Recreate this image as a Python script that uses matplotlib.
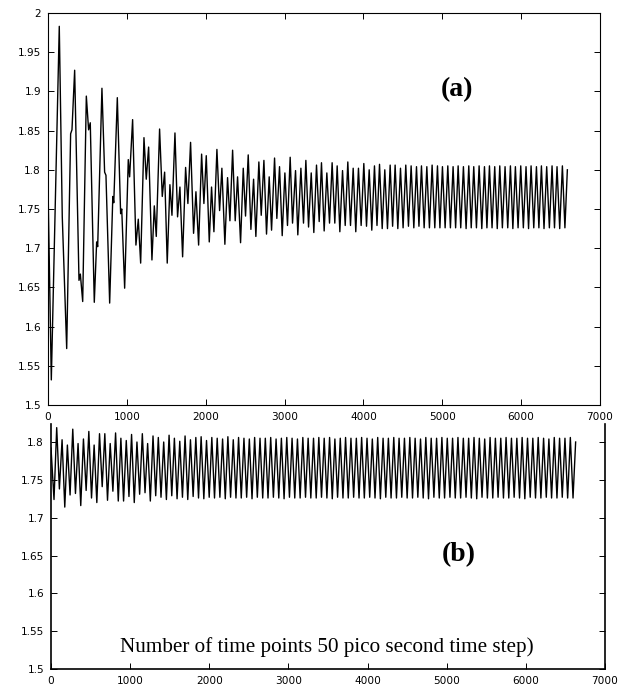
import matplotlib
matplotlib.use("Agg")
import matplotlib.pyplot as plt
from matplotlib.ticker import FuncFormatter, MultipleLocator

# ---------------- data ----------------
# panel (a): successive turning points of the curve (time point, value)
top_t = [0, 42, 143, 181, 237, 287, 304, 338, 393, 410, 440, 486, 515, 536, 587,
         617, 630, 684, 718, 735, 782, 822, 834, 879, 921, 935, 972, 1018, 1035,
         1073, 1115, 1145, 1175,
         1217, 1246, 1276, 1318, 1348, 1373, 1415, 1449, 1479, 1512, 1546, 1572,
         1610, 1643, 1673, 1707, 1745, 1774, 1808, 1846, 1876, 1910, 1948, 1977,
         2007, 2045, 2074, 2104, 2142, 2176, 2205, 2243, 2277, 2307, 2341, 2374,
         2404, 2442,
         2476, 2505, 2539, 2573, 2607, 2636, 2674, 2704, 2738, 2771, 2805, 2835,
         2873, 2902, 2936, 2970, 3004, 3037, 3071, 3101, 3139, 3168, 3207, 3240,
         3270, 3304, 3338, 3371, 3405, 3439, 3468, 3502, 3536, 3570, 3603, 3637,
         3667, 3701, 3735, 3769, 3802,
         3836, 3870, 3903, 3937, 3971, 4005, 4039, 4073, 4106, 4140, 4172, 4204,
         4238, 4271, 4305, 4339, 4370, 4402, 4436, 4470, 4503, 4537, 4571, 4605,
         4639, 4673, 4704, 4736, 4770, 4804, 4837, 4871, 4905, 4939, 4970, 5002,
         5036, 5070, 5103, 5137, 5169, 5201,
         5234, 5268, 5302, 5336, 5367, 5399, 5433, 5467, 5501, 5535, 5566, 5598,
         5631, 5665, 5697, 5729, 5762, 5796, 5830, 5864, 5895, 5927, 5961, 5995,
         6028, 6062, 6094, 6126, 6160, 6194, 6225, 6257, 6290, 6324, 6358, 6392,
         6423, 6455, 6489, 6523, 6555, 6586]
top_v = [1.780, 1.532, 1.983, 1.740, 1.572, 1.846, 1.851, 1.927, 1.659, 1.667,
         1.632, 1.894, 1.851, 1.860, 1.631, 1.708, 1.702, 1.904, 1.797, 1.793,
         1.630, 1.766, 1.758, 1.892, 1.744, 1.750, 1.649, 1.813, 1.791, 1.864,
         1.704, 1.737, 1.681,
         1.841, 1.788, 1.829, 1.685, 1.754, 1.715, 1.852, 1.766, 1.797, 1.681,
         1.781, 1.742, 1.847, 1.740, 1.778, 1.689, 1.803, 1.757, 1.835, 1.719,
         1.772, 1.704, 1.820, 1.757, 1.818, 1.708, 1.778, 1.721, 1.826, 1.748,
         1.802, 1.705, 1.790, 1.735, 1.825, 1.735, 1.791, 1.707,
         1.802, 1.741, 1.819, 1.724, 1.788, 1.715, 1.810, 1.742, 1.812, 1.718,
         1.791, 1.723, 1.815, 1.738, 1.804, 1.716, 1.796, 1.729, 1.816, 1.732,
         1.799, 1.717, 1.802, 1.732, 1.812, 1.727, 1.796, 1.720, 1.806, 1.734,
         1.809, 1.722, 1.796, 1.732, 1.809, 1.732, 1.805, 1.721, 1.799, 1.729,
         1.810,
         1.729, 1.802, 1.721, 1.802, 1.729, 1.808, 1.728, 1.800, 1.723, 1.805,
         1.729, 1.807, 1.725, 1.800, 1.725, 1.806, 1.728, 1.806, 1.725, 1.802,
         1.726, 1.806, 1.728, 1.805, 1.726, 1.804, 1.728, 1.805, 1.726, 1.804,
         1.726, 1.806, 1.726, 1.805, 1.726, 1.804, 1.726, 1.805, 1.726, 1.804,
         1.726, 1.805,
         1.726, 1.804, 1.725, 1.805, 1.726, 1.804, 1.726, 1.805, 1.725, 1.804,
         1.726, 1.805, 1.726, 1.804, 1.725, 1.805, 1.726, 1.804, 1.726, 1.805,
         1.725, 1.804, 1.726, 1.805, 1.726, 1.804, 1.725, 1.805, 1.726, 1.804,
         1.726, 1.805, 1.725, 1.804, 1.726, 1.805, 1.726, 1.804, 1.725, 1.805,
         1.726, 1.800]

# panel (b): start / end values, then the peaks and troughs of each cycle
bot_start_t, bot_start_v = 0, 1.792
bot_end_t, bot_end_v = 6629, 1.800
bot_peak_t = [72, 140, 207, 275, 342, 410, 478, 545, 613, 680, 748, 816, 883, 951,
              1018, 1086, 1154, 1221, 1289, 1356, 1424, 1492, 1559, 1627, 1694,
              1762, 1830, 1897, 1965, 2032, 2100, 2168, 2235, 2303, 2370, 2438,
              2506, 2573, 2641, 2708, 2776, 2844, 2911, 2979, 3046, 3114, 3182,
              3249, 3317, 3384, 3452, 3520, 3587, 3655, 3722, 3790, 3858, 3925,
              3993, 4060, 4128, 4196, 4263, 4331, 4398, 4466, 4534, 4601, 4669,
              4736, 4804, 4872, 4939, 5007, 5074, 5142, 5210, 5277, 5345, 5412,
              5480, 5548, 5615, 5683, 5750, 5818, 5886, 5953, 6021, 6088, 6156,
              6224, 6291, 6359, 6426, 6494, 6562]
bot_peak_v = [1.819, 1.803, 1.796, 1.817, 1.798, 1.804, 1.814, 1.796, 1.811, 1.811,
              1.798, 1.812, 1.805, 1.802, 1.810, 1.800, 1.811, 1.798, 1.808, 1.806,
              1.800, 1.809, 1.805, 1.801, 1.808, 1.803, 1.806, 1.807, 1.802, 1.806,
              1.805, 1.804, 1.807, 1.803, 1.806, 1.805, 1.804, 1.806, 1.805, 1.805,
              1.806, 1.804, 1.805, 1.806, 1.805, 1.804, 1.806, 1.805, 1.805, 1.806,
              1.805, 1.806, 1.804, 1.805, 1.806, 1.805, 1.805, 1.806, 1.805, 1.804,
              1.806, 1.805, 1.805, 1.806, 1.805, 1.805, 1.806, 1.805, 1.804, 1.806,
              1.805, 1.805, 1.806, 1.805, 1.805, 1.806, 1.805, 1.805, 1.806, 1.805,
              1.804, 1.806, 1.805, 1.805, 1.806, 1.805, 1.805, 1.806, 1.805, 1.805,
              1.806, 1.805, 1.804, 1.806, 1.805, 1.805, 1.806]
bot_trough_t = [38, 106, 174, 241, 309, 376, 444, 512, 579, 647, 714, 782, 850, 917,
                985, 1052, 1120, 1188, 1255, 1323, 1390, 1458, 1526, 1593, 1661,
                1728, 1796, 1864, 1931, 1999, 2066, 2134, 2202, 2269, 2337, 2404,
                2472, 2540, 2607, 2675, 2742, 2810, 2878, 2945, 3013, 3080, 3148,
                3216, 3283, 3351, 3418, 3486, 3554, 3621, 3689, 3756, 3824, 3892,
                3959, 4027, 4094, 4162, 4230, 4297, 4365, 4432, 4500, 4568, 4635,
                4703, 4770, 4838, 4906, 4973, 5041, 5108, 5176, 5244, 5311, 5379,
                5446, 5514, 5582, 5649, 5717, 5784, 5852, 5920, 5987, 6055, 6122,
                6190, 6258, 6325, 6393, 6460, 6528, 6596]
bot_trough_v = [1.724, 1.738, 1.714, 1.730, 1.732, 1.716, 1.736, 1.726, 1.720, 1.741,
                1.723, 1.735, 1.722, 1.722, 1.728, 1.720, 1.731, 1.733, 1.722, 1.729,
                1.727, 1.724, 1.729, 1.725, 1.727, 1.724, 1.728, 1.726, 1.725, 1.727,
                1.726, 1.727, 1.725, 1.727, 1.726, 1.726, 1.727, 1.725, 1.727, 1.726,
                1.726, 1.727, 1.726, 1.725, 1.727, 1.726, 1.726, 1.727, 1.726, 1.726,
                1.727, 1.726, 1.725, 1.727, 1.726, 1.726, 1.727, 1.726, 1.726, 1.727,
                1.726, 1.725, 1.727, 1.726, 1.726, 1.727, 1.726, 1.726, 1.727, 1.726,
                1.725, 1.727, 1.726, 1.726, 1.727, 1.726, 1.726, 1.727, 1.726, 1.725,
                1.727, 1.726, 1.726, 1.727, 1.726, 1.726, 1.727, 1.726, 1.725, 1.727,
                1.726, 1.726, 1.727, 1.726, 1.726, 1.727, 1.726, 1.726]

x_ticks = [0, 1000, 2000, 3000, 4000, 5000, 6000, 7000]
label_a = "(a)"
label_b = "(b)"
x_label = "Number of time points 50 pico second time step)"

# ---------------- assemble panel (b) ----------------
pts = ([(bot_start_t, bot_start_v)] + list(zip(bot_peak_t, bot_peak_v)) +
       list(zip(bot_trough_t, bot_trough_v)) + [(bot_end_t, bot_end_v)])
pts.sort(key=lambda p: p[0])
bot_t = [p[0] for p in pts]
bot_v = [p[1] for p in pts]

# ---------------- figure ----------------
W, H = 623, 686
fig = plt.figure(figsize=(W / 100, H / 100), dpi=100)
fmt = FuncFormatter(lambda v, p: f"{v:g}")


def frac(x0, y0, x1, y1):
    return [x0 / W, 1 - y1 / H, (x1 - x0) / W, (y1 - y0) / H]


ax1 = fig.add_axes(frac(48, 13, 600, 405))
ax1.plot(top_t, top_v, color="black", lw=1.0)
ax1.set_xlim(0, 7000)
ax1.set_ylim(1.5, 2.0)
ax1.set_xticks(x_ticks)
ax1.yaxis.set_major_locator(MultipleLocator(0.05))
ax1.xaxis.set_major_formatter(fmt)
ax1.yaxis.set_major_formatter(fmt)
ax1.tick_params(direction="in", length=4, width=0.7, top=True, right=True,
                labelsize=7.6, pad=5)
for s in ax1.spines.values():
    s.set_linewidth(0.8)
ax1.text(5184, 1.902, label_a, ha="center", va="center",
         family="Liberation Serif", weight="bold", size=20)

ax2 = fig.add_axes(frac(51, 424, 605, 669))
ax2.plot(bot_t, bot_v, color="black", lw=1.0)
ax2.set_xlim(0, 7000)
ax2.set_ylim(1.5, 1.5 + (669 - 424) * 0.0013217)
ax2.set_xticks(x_ticks)
ax2.set_yticks([1.5, 1.55, 1.6, 1.65, 1.7, 1.75, 1.8])
ax2.xaxis.set_major_formatter(fmt)
ax2.yaxis.set_major_formatter(fmt)
ax2.tick_params(direction="in", length=4, width=0.7, right=True,
                labelsize=7.6, pad=5)
ax2.spines["top"].set_visible(False)
for k in ("left", "bottom", "right"):
    ax2.spines[k].set_linewidth(1.2)
ax2.text(5146, 1.651, label_b, ha="center", va="center",
         family="Liberation Serif", weight="bold", size=20)
ax2.text(0.1245, 0.069, x_label, transform=ax2.transAxes, ha="left",
         va="baseline", family="Liberation Serif", size=15.2)

for ax in (ax1, ax2):
    for lab in ax.get_xticklabels() + ax.get_yticklabels():
        lab.set_family("DejaVu Sans")

fig.savefig("out.png", dpi=100)
